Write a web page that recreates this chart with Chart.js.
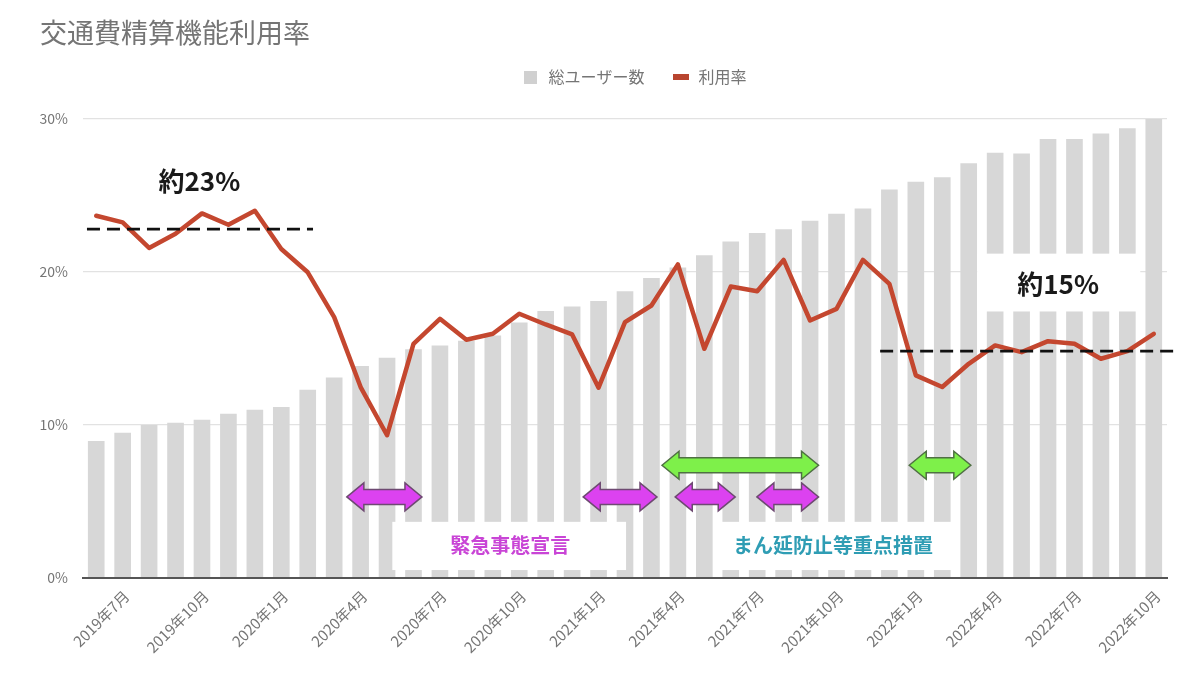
<!DOCTYPE html>
<html>
<head>
<meta charset="utf-8">
<script src="https://cdn.jsdelivr.net/npm/chart.js@4.4.0/dist/chart.umd.min.js"></script>
<style>
html,body{margin:0;padding:0;background:#ffffff;}
#wrap{width:1200px;height:677px;}
</style>
</head>
<body>
<div id="wrap"><canvas id="c" width="1200" height="677"></canvas></div>
<script>
// ---- data ----
const chartTitle = '交通費精算機能利用率';
const seriesNames = ['総ユーザー数', '利用率'];
const months = [
  '2019年6月','2019年7月','2019年8月','2019年9月','2019年10月','2019年11月','2019年12月',
  '2020年1月','2020年2月','2020年3月','2020年4月','2020年5月','2020年6月','2020年7月',
  '2020年8月','2020年9月','2020年10月','2020年11月','2020年12月','2021年1月','2021年2月',
  '2021年3月','2021年4月','2021年5月','2021年6月','2021年7月','2021年8月','2021年9月',
  '2021年10月','2021年11月','2021年12月','2022年1月','2022年2月','2022年3月','2022年4月',
  '2022年5月','2022年6月','2022年7月','2022年8月','2022年9月','2022年10月'
];
// total users (relative units)
const userCounts = [
  8.96, 9.5, 10.0, 10.15, 10.35, 10.74, 11.0, 11.17, 12.3, 13.1,
  13.85, 14.4, 14.95, 15.2, 15.5, 15.85, 16.7, 17.45, 17.75, 18.1,
  18.75, 19.6, 20.3, 21.1, 22.0, 22.55, 22.8, 23.35, 23.8, 24.15,
  25.4, 25.9, 26.2, 27.1, 27.8, 27.75, 28.7, 28.7, 29.05, 29.4, 30.0
];
// usage rate (%)
const usageRate = [
  23.68, 23.24, 21.57, 22.5, 23.83, 23.09, 24.0, 21.5, 19.98, 17.05,
  12.48, 9.33, 15.3, 16.94, 15.57, 15.96, 17.27, 16.57, 15.92, 12.44,
  16.72, 17.81, 20.5, 14.98, 19.05, 18.74, 20.79, 16.83, 17.59, 20.79,
  19.22, 13.24, 12.48, 14.0, 15.2, 14.76, 15.48, 15.31, 14.33, 14.83, 15.96
];
const yTickValues = [0, 10, 20, 30];

// ---- annotations (positions in data units: x = month index, y = %) ----
const avgLines = [ { from: -0.35, to: 8.2, value: 22.8 }, { from: 29.65, to: 40.9, value: 14.83 } ];
const avgLabels = [ { text: '約23%', x: 3.9, y: 25.96 }, { text: '約15%', x: 36.38, y: 19.24 } ];
const emergencyPeriods = [ [9.48, 12.32], [18.42, 21.21], [21.9, 24.17], [24.99, 27.32] ];
const emergencyLevel = 5.3;
const quasiPeriods = [ [21.4, 27.32], [30.75, 33.08] ];
const quasiLevel = 7.37;
const whiteBoxes = [
  { x1: 11.2, x2: 20.04, y1: 0.52, y2: 3.67 },
  { x1: 23.34, x2: 32.49, y1: 0.52, y2: 3.67 },
  { x1: 33.32, x2: 39.49, y1: 17.42, y2: 21.2 }
];
const periodLabels = [
  { text: '緊急事態宣言', x: 15.66, y: 2.15, kind: 'emergency' },
  { text: 'まん延防止等重点措置', x: 27.87, y: 2.15, kind: 'quasi' }
];

// ---- styles ----
const FONT = '"Noto Sans CJK JP","Noto Sans",sans-serif';
const GRAY_TEXT = '#757575';
const BAR_COLOR = '#d7d7d7';
const LINE_COLOR = '#c4472f';
const MAGENTA = '#dc42f0', MAGENTA_STROKE = '#6e4a72', MAGENTA_TEXT = '#c945d6';
const GREEN = '#7ef04a', GREEN_STROKE = '#4f7043';
const TEAL_TEXT = '#2f9db4';

Chart.defaults.font.family = FONT;
Chart.defaults.color = GRAY_TEXT;

function makeMarker(w, h, color) {
  const c = document.createElement('canvas');
  c.width = w; c.height = h;
  const g = c.getContext('2d');
  g.fillStyle = color; g.fillRect(0, 0, w, h);
  return c;
}
const markerBar = makeMarker(13, 13, '#d0d0d0');
const markerLine = makeMarker(16, 6, '#b8452f');

function drawArrow(ctx, x1, x2, yc, fill, stroke) {
  const H = 14, h = 7.5, L = 17;
  ctx.beginPath();
  ctx.moveTo(x1, yc);
  ctx.lineTo(x1 + L, yc - H);
  ctx.lineTo(x1 + L, yc - h);
  ctx.lineTo(x2 - L, yc - h);
  ctx.lineTo(x2 - L, yc - H);
  ctx.lineTo(x2, yc);
  ctx.lineTo(x2 - L, yc + H);
  ctx.lineTo(x2 - L, yc + h);
  ctx.lineTo(x1 + L, yc + h);
  ctx.lineTo(x1 + L, yc + H);
  ctx.closePath();
  ctx.fillStyle = fill;
  ctx.fill();
  ctx.lineWidth = 1.5;
  ctx.strokeStyle = stroke;
  ctx.lineJoin = 'miter';
  ctx.stroke();
}

const overlayPlugin = {
  id: 'overlay',
  afterInit(chart) {
    const lg = chart.legend;
    if (lg) {
      const fit = lg.fit.bind(lg);
      lg.fit = function () { fit(); this.height = 73; };
    }
  },
  afterLayout(chart) {
    const lg = chart.legend;
    if (lg) {
      const dx = 30, dy = 43 - lg.top;
      lg.left += dx; lg.right += dx;
      lg.top += dy; lg.bottom += dy;
    }
  },
  afterDatasetDraw(chart, args) {
    if (args.meta.type !== 'bar') return;
    const ctx = chart.ctx, xs = chart.scales.x, ys = chart.scales.y;
    ctx.save();
    ctx.fillStyle = '#ffffff';
    whiteBoxes.forEach(b => {
      const x1 = xs.getPixelForValue(b.x1), x2 = xs.getPixelForValue(b.x2);
      const y1 = ys.getPixelForValue(b.y2), y2 = ys.getPixelForValue(b.y1);
      ctx.fillRect(x1, y1, x2 - x1, y2 - y1);
    });
    ctx.restore();
  },
  afterDatasetsDraw(chart) {
    const ctx = chart.ctx, xs = chart.scales.x, ys = chart.scales.y;
    ctx.save();
    // dashed average lines
    ctx.strokeStyle = '#111111';
    ctx.lineWidth = 2.6;
    ctx.setLineDash([13, 7]);
    avgLines.forEach(l => {
      const y = ys.getPixelForValue(l.value);
      ctx.beginPath();
      ctx.moveTo(xs.getPixelForValue(l.from), y);
      ctx.lineTo(xs.getPixelForValue(l.to), y);
      ctx.stroke();
    });
    ctx.setLineDash([]);
    // arrows
    quasiPeriods.forEach(p => drawArrow(ctx, xs.getPixelForValue(p[0]), xs.getPixelForValue(p[1]), ys.getPixelForValue(quasiLevel), GREEN, GREEN_STROKE));
    emergencyPeriods.forEach(p => drawArrow(ctx, xs.getPixelForValue(p[0]), xs.getPixelForValue(p[1]), ys.getPixelForValue(emergencyLevel), MAGENTA, MAGENTA_STROKE));
    // texts
    ctx.textAlign = 'center';
    ctx.textBaseline = 'middle';
    ctx.fillStyle = '#1a1a1a';
    ctx.font = 'bold 26px ' + FONT;
    avgLabels.forEach(t => ctx.fillText(t.text, xs.getPixelForValue(t.x), ys.getPixelForValue(t.y)));
    ctx.font = 'bold 20px ' + FONT;
    periodLabels.forEach(t => {
      ctx.fillStyle = t.kind === 'emergency' ? MAGENTA_TEXT : TEAL_TEXT;
      ctx.fillText(t.text, xs.getPixelForValue(t.x), ys.getPixelForValue(t.y));
    });
    ctx.restore();
  }
};

new Chart(document.getElementById('c'), {
  data: {
    labels: months,
    datasets: [
      {
        type: 'bar', label: seriesNames[0], data: userCounts, yAxisID: 'y1', order: 1,
        backgroundColor: BAR_COLOR, barPercentage: 0.63, categoryPercentage: 1.0
      },
      {
        type: 'line', label: seriesNames[1], data: usageRate, yAxisID: 'y', order: 0,
        borderColor: LINE_COLOR, borderWidth: 4.5, pointRadius: 0, tension: 0,
        borderJoinStyle: 'round', borderCapStyle: 'round', fill: false
      }
    ]
  },
  options: {
    responsive: false,
    animation: false,
    layout: { padding: { top: 0, left: 40, right: 33, bottom: 0 } },
    plugins: {
      tooltip: { enabled: false },
      title: {
        display: true, text: chartTitle, align: 'start', color: GRAY_TEXT,
        font: { size: 27, weight: 'normal', lineHeight: 1.0 },
        padding: { top: 19, bottom: 0 }
      },
      legend: {
        display: true, position: 'top', align: 'center',
        labels: {
          usePointStyle: true, pointStyleWidth: 20, padding: 26, color: GRAY_TEXT,
          font: { size: 16 },
          generateLabels: () => [
            { text: seriesNames[0], pointStyle: markerBar, fontColor: GRAY_TEXT, datasetIndex: 0, hidden: false, lineWidth: 0 },
            { text: seriesNames[1], pointStyle: markerLine, fontColor: GRAY_TEXT, datasetIndex: 1, hidden: false, lineWidth: 0 }
          ]
        }
      }
    },
    scales: {
      x: {
        offset: true,
        grid: { display: false, drawTicks: false },
        border: { display: true, color: '#555555', width: 2, z: 1 },
        ticks: {
          autoSkip: false, maxRotation: 45, minRotation: 45, padding: 9, labelOffset: 4,
          color: GRAY_TEXT, font: { size: 15 },
          callback: (v, i) => (i % 3 === 1 ? months[i] : '')
        },
        afterFit: s => { s.height = 99; }
      },
      y: {
        position: 'left', min: 0, max: 30,
        afterBuildTicks: s => { s.ticks = yTickValues.map(v => ({ value: v })); },
        ticks: { callback: v => v + '%', padding: 15, color: GRAY_TEXT, font: { size: 14 } },
        grid: { color: '#e2e2e2', lineWidth: 1.2, drawTicks: false },
        border: { display: false },
        afterFit: s => { s.width = 43; }
      },
      y1: { display: false, min: 0, max: 30 }
    }
  },
  plugins: [overlayPlugin]
});
</script>
</body>
</html>
